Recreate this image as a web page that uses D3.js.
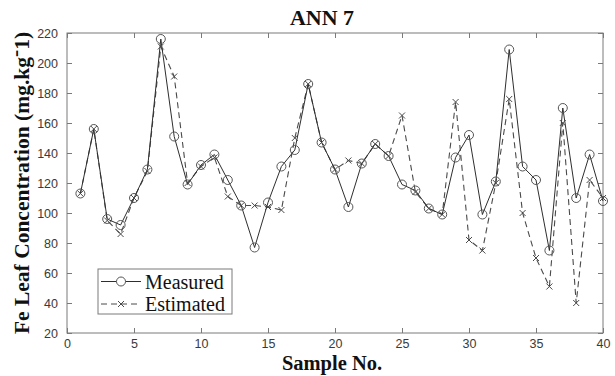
<!DOCTYPE html>
<html><head><meta charset="utf-8">
<script src="https://cdn.jsdelivr.net/npm/d3@7"></script>
<style>body{margin:0;background:#fff}svg{display:block}</style>
</head><body>
<script>
const samples = d3.range(1, 41);
const measured = [113,156,96,92,110,129,216,151,119,132,139,122,105,77,107,131,142,186,147,129,104,133,146,138,119,115,103,99,137,152,99,121,209,131,122,75,170,110,139,108];
const estimated = [113,156,95,86,110,128,211,191,120,131,137,111,105,105,104,102,150,186,147,129,135,133,146,138,165,114,103,99,174,82,75,120,176,100,70,51,160,40,122,110];
const xTicks = [0,5,10,15,20,25,30,35,40];
const yTicks = [20,40,60,80,100,120,140,160,180,200,220];
const seriesNames = ["Measured","Estimated"];

const W = 615, H = 376;
const m = {left:67, right:12, top:33, bottom:43};
const svg = d3.select("body").append("svg").attr("width", W).attr("height", H);
const x = d3.scaleLinear().domain([0,40]).range([m.left, W - m.right]);
const y = d3.scaleLinear().domain([20,220]).range([H - m.bottom, m.top]);
const axisCol = "#7a7a7a", textCol = "#3a3a3a";
const sans = "'Liberation Sans', Arial, sans-serif", serif = "'Liberation Serif', 'Times New Roman', serif";

function styleAxis(g, labels){
  g.select(".domain").remove();
  g.selectAll(".tick line").attr("stroke", axisCol);
  g.selectAll(".tick text").attr("fill", textCol).attr("font-family", sans).attr("font-size", 12.5);
  if(!labels) g.selectAll(".tick text").remove();
}
svg.append("g").attr("transform",`translate(0,${y(20)})`)
  .call(d3.axisBottom(x).tickValues(xTicks).tickSizeInner(-5).tickSizeOuter(0).tickPadding(6))
  .call(g=>styleAxis(g,true));
svg.append("g").attr("transform",`translate(0,${y(220)})`)
  .call(d3.axisTop(x).tickValues(xTicks).tickSizeInner(-5).tickSizeOuter(0))
  .call(g=>styleAxis(g,false));
svg.append("g").attr("transform",`translate(${x(0)},0)`)
  .call(d3.axisLeft(y).tickValues(yTicks).tickSizeInner(-5).tickSizeOuter(0).tickPadding(9))
  .call(g=>styleAxis(g,true));
svg.append("g").attr("transform",`translate(${x(40)},0)`)
  .call(d3.axisRight(y).tickValues(yTicks).tickSizeInner(-5).tickSizeOuter(0))
  .call(g=>styleAxis(g,false));
svg.append("rect").attr("x", x(0)).attr("y", y(220)).attr("width", x(40)-x(0)).attr("height", y(20)-y(220))
  .attr("fill","none").attr("stroke", axisCol).attr("stroke-width",1);

const line = d3.line().x((d,i)=>x(samples[i])).y(d=>y(d));
const estCol = "#4a4a4a", measCol = "#2e2e2e";
svg.append("path").datum(estimated).attr("d", line).attr("fill","none")
  .attr("stroke", estCol).attr("stroke-width",1.1).attr("stroke-dasharray","6,4");
svg.append("path").datum(measured).attr("d", line).attr("fill","none")
  .attr("stroke", measCol).attr("stroke-width",1);

function xMark(g, cx, cy, s){
  g.append("path").attr("d",`M${cx-s},${cy-s}L${cx+s},${cy+s}M${cx-s},${cy+s}L${cx+s},${cy-s}`)
    .attr("stroke", estCol).attr("stroke-width",1).attr("fill","none");
}
const mk = svg.append("g");
measured.forEach((d,i)=>{
  mk.append("circle").attr("cx", x(samples[i])).attr("cy", y(d)).attr("r",4.5)
    .attr("fill","none").attr("stroke","#555").attr("stroke-width",1);
});
estimated.forEach((d,i)=> xMark(mk, x(samples[i]), y(d), 3));

// legend
const lg = svg.append("g");
lg.append("rect").attr("x",98).attr("y",269).attr("width",134).attr("height",45)
  .attr("fill","#fff").attr("stroke", axisCol);
lg.append("line").attr("x1",101).attr("x2",141).attr("y1",281.5).attr("y2",281.5).attr("stroke",measCol);
lg.append("circle").attr("cx",121).attr("cy",281.5).attr("r",4.5).attr("fill","#fff").attr("stroke","#555");
lg.append("line").attr("x1",101).attr("x2",141).attr("y1",304).attr("y2",304).attr("stroke",estCol).attr("stroke-dasharray","6,4");
xMark(lg,121,304,3);
lg.selectAll("text.lab").data(seriesNames).join("text").attr("class","lab")
  .attr("x",145).attr("y",(d,i)=> i ? 310.5 : 288.5)
  .attr("font-family", serif).attr("font-size",20).attr("fill","#111").text(d=>d);

// titles
svg.append("text").attr("x",(x(0)+x(40))/2 - 13).attr("y",25).attr("text-anchor","middle")
  .attr("font-family", serif).attr("font-weight","bold").attr("font-size",22).attr("fill","#111").text("ANN 7");
svg.append("text").attr("x",(x(0)+x(40))/2 - 3).attr("y",370).attr("text-anchor","middle")
  .attr("font-family", serif).attr("font-weight","bold").attr("font-size",20.5).attr("fill","#111").text("Sample No.");
const yl = svg.append("text").attr("transform",`translate(29,${(y(20)+y(220))/2}) rotate(-90)`)
  .attr("text-anchor","middle").attr("font-family", serif).attr("font-weight","bold").attr("font-size",21.5).attr("fill","#111");
yl.append("tspan").text("Fe Leaf Concentration (mg.kg");
yl.append("tspan").attr("dy",-7).text("-");
yl.append("tspan").attr("dy",7).text("1)");
</script>
</body></html>
